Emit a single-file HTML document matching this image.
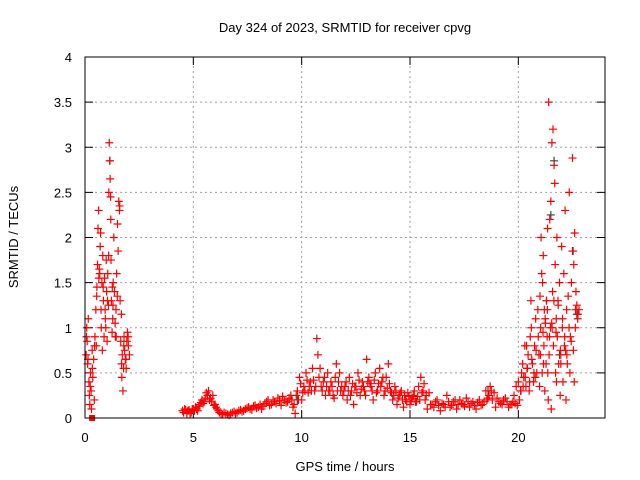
<!DOCTYPE html>
<html><head><meta charset="utf-8"><style>
html,body{margin:0;padding:0;background:#fff;}
svg{display:block;font-family:"Liberation Sans",sans-serif;font-size:13px;}
</style></head><body>
<svg id="chart" width="640" height="480">
<text x="345" y="32" text-anchor="middle">Day 324 of 2023, SRMTID for receiver cpvg</text>
<text x="0" y="0" transform="translate(18,237) rotate(-90)" text-anchor="middle">SRMTID / TECUs</text>
<text x="345" y="471" text-anchor="middle">GPS time / hours</text>
<g id="grid"></g><g id="ticks"></g><g id="marks"></g>
<rect x="85" y="57" width="520" height="361" fill="none" stroke="#000" stroke-width="1"/>
</svg>
<script>
const xTicks=[0,5,10,15,20];
const yTicks=[0,0.5,1,1.5,2,2.5,3,3.5,4];
const yTickLabels=["0","0.5","1","1.5","2","2.5","3","3.5","4"];
const hours=[0.05,0.08,0.1,0.12,0.15,0.18,0.2,0.22,0.25,0.28,0.3,0.33,0.36,0.4,0.43,0.46,0.5,0.52,0.55,0.58,0.6,0.63,0.66,0.7,0.72,0.75,0.78,0.8,0.82,0.85,0.88,0.9,0.93,0.96,1.0,1.02,1.05,1.08,1.1,1.12,1.14,1.16,1.18,1.2,1.22,1.25,1.28,1.3,1.33,1.36,1.4,1.43,1.46,1.5,1.53,1.56,1.6,1.62,1.65,1.68,1.7,1.72,1.75,1.78,1.8,1.83,1.86,1.9,1.93,1.96,2.0,2.05,
4.5,4.6,4.7,4.8,4.9,5.0,5.1,5.2,5.3,5.4,5.5,5.6,5.7,5.8,5.9,6.0,6.1,6.2,6.35,6.5,6.65,6.8,6.95,7.1,7.25,7.4,7.55,7.7,7.85,8.0,8.15,8.3,8.45,8.6,8.75,8.9,9.05,9.2,9.35,9.5,9.6,9.7,9.8,9.9,10.0,10.1,10.2,10.3,10.4,10.5,10.6,10.7,10.75,10.8,10.9,11.0,11.1,11.2,11.3,11.4,11.5,11.6,11.7,11.8,11.9,12.0,12.1,12.2,12.3,12.4,12.5,12.6,12.7,12.8,12.9,13.0,13.1,13.2,13.3,13.4,13.5,13.6,13.7,13.8,13.9,14.0,14.1,14.2,14.3,14.4,14.5,14.6,14.7,14.8,14.9,15.0,15.1,15.2,15.3,15.4,15.5,15.6,15.7,15.8,15.95,16.1,16.25,16.4,16.55,16.7,16.85,17.0,17.15,17.3,17.45,17.6,17.75,17.9,18.05,18.2,18.35,18.5,18.6,18.7,18.8,18.95,19.1,19.25,19.4,19.55,19.7,
19.8,19.9,20.0,20.1,20.15,20.2,20.25,20.3,20.35,20.4,20.45,20.5,20.55,20.6,20.65,20.7,20.75,20.8,20.85,20.9,20.95,21.0,21.03,21.05,21.08,21.1,21.12,21.15,21.18,21.2,21.22,21.25,21.28,21.3,21.33,21.35,21.38,21.4,21.42,21.45,21.48,21.5,21.52,21.55,21.58,21.6,21.62,21.65,21.68,21.7,21.72,21.75,21.78,21.8,21.83,21.86,21.9,21.93,21.96,22.0,22.03,22.06,22.1,22.13,22.16,22.2,22.23,22.26,22.3,22.35,22.4,22.45,22.5,22.53,22.56,22.6,22.63,22.66,22.7,22.75,22.8];
const srmtid=[0.7,1.0,0.85,0.6,1.1,0.4,0.25,0.15,0.5,0.3,0.1,0.75,0.45,0.65,0.2,0.9,1.2,0.8,1.45,1.7,2.1,2.3,1.65,1.9,2.05,1.0,1.5,0.75,1.8,1.3,0.9,1.55,1.2,1.0,1.4,0.85,1.6,1.25,2.5,3.05,2.85,2.65,2.45,1.75,1.3,0.95,1.1,1.5,2.0,1.4,0.9,1.2,1.6,2.15,1.85,2.4,2.35,1.3,0.85,1.15,0.45,0.7,0.3,0.55,0.9,0.75,0.65,0.55,0.85,0.95,0.8,0.7,
0.08,0.1,0.05,0.09,0.06,0.1,0.12,0.08,0.15,0.2,0.18,0.28,0.3,0.22,0.25,0.15,0.1,0.06,0.04,0.05,0.03,0.06,0.05,0.08,0.07,0.1,0.12,0.09,0.14,0.12,0.1,0.16,0.2,0.15,0.18,0.22,0.14,0.2,0.18,0.25,0.12,0.05,0.3,0.45,0.2,0.35,0.5,0.28,0.4,0.55,0.3,0.88,0.7,0.45,0.35,0.4,0.25,0.5,0.3,0.35,0.22,0.6,0.4,0.3,0.25,0.35,0.2,0.45,0.3,0.15,0.35,0.5,0.25,0.4,0.3,0.65,0.45,0.35,0.2,0.5,0.3,0.55,0.4,0.25,0.45,0.6,0.3,0.2,0.35,0.15,0.25,0.3,0.12,0.2,0.28,0.15,0.22,0.3,0.18,0.35,0.45,0.3,0.2,0.1,0.15,0.12,0.2,0.08,0.15,0.25,0.12,0.18,0.1,0.2,0.15,0.22,0.12,0.18,0.1,0.2,0.15,0.3,0.22,0.35,0.2,0.12,0.18,0.15,0.22,0.12,0.15,
0.25,0.35,0.4,0.3,0.5,0.6,0.45,0.8,0.35,0.55,0.7,0.3,0.9,1.0,0.6,0.4,0.8,1.1,0.5,1.2,0.7,1.35,1.0,2.0,1.6,0.5,1.5,1.8,0.8,1.2,0.3,1.05,0.6,1.3,0.9,2.1,0.2,3.5,0.7,2.2,1.0,2.4,0.1,3.05,1.4,3.2,0.8,2.8,2.6,1.7,0.5,1.1,2.0,0.9,1.3,0.6,1.5,0.25,0.7,1.9,1.0,0.4,1.6,0.8,2.3,0.2,1.2,0.6,1.35,2.5,0.9,1.5,2.88,1.85,1.7,2.05,1.0,1.4,1.25,1.15,1.2];
const bandHours=[0.07,0.14,0.24,0.34,0.44,0.54,0.64,0.74,0.84,0.94,1.04,1.09,1.19,1.29,1.39,1.49,1.59,1.69,1.79,1.89,1.99,0.68,0.98,1.26,1.44,
4.55,4.65,4.75,4.85,4.95,5.05,5.15,5.25,5.35,5.45,5.55,5.65,5.75,5.85,5.95,6.05,6.15,6.28,6.42,6.58,6.72,6.88,7.02,7.18,7.32,7.48,7.62,7.78,7.92,8.08,8.22,8.38,8.52,8.68,8.82,8.98,9.12,9.28,9.42,9.55,9.65,9.75,9.85,9.95,10.05,10.15,10.25,10.35,10.45,10.55,10.65,10.85,10.95,11.05,11.15,11.25,11.35,11.45,11.55,11.65,11.75,11.85,11.95,12.05,12.15,12.25,12.35,12.45,12.55,12.65,12.75,12.85,12.95,13.05,13.15,13.25,13.35,13.45,13.55,13.65,13.75,13.85,13.95,14.05,14.15,14.25,14.35,14.45,14.55,14.65,14.75,14.85,14.95,15.05,15.15,15.25,15.35,15.45,15.55,15.65,15.75,15.88,16.02,16.18,16.32,16.48,16.62,16.78,16.92,17.08,17.22,17.38,17.52,17.68,17.82,17.98,18.12,18.28,18.42,18.55,18.65,18.75,18.88,19.02,19.18,19.32,19.48,19.62,19.75,
19.85,19.95,20.05,20.12,20.22,20.32,20.42,20.52,20.62,20.72,20.82,20.92,21.02,21.14,21.24,21.34,21.44,21.54,21.64,21.74,21.84,21.94,22.04,22.14,22.24,22.34,22.44,22.54,22.64,22.74,20.38,20.58,20.78,20.98,21.16,21.36,21.56,21.76,21.96,22.18,22.38,22.58];
const bandSrmtid=[0.9,0.65,0.35,0.55,0.8,1.35,1.55,1.2,1.45,1.1,1.3,1.8,2.2,1.25,1.05,1.35,2.3,0.6,0.8,0.65,0.9,1.6,1.75,1.45,0.9,
0.06,0.09,0.08,0.05,0.1,0.08,0.1,0.13,0.17,0.16,0.22,0.25,0.2,0.18,0.14,0.12,0.08,0.05,0.06,0.04,0.05,0.07,0.06,0.09,0.08,0.11,0.1,0.13,0.11,0.15,0.13,0.18,0.14,0.2,0.16,0.19,0.24,0.17,0.22,0.2,0.15,0.25,0.2,0.38,0.28,0.3,0.42,0.35,0.3,0.42,0.35,0.55,0.3,0.45,0.35,0.3,0.4,0.25,0.45,0.3,0.5,0.35,0.3,0.4,0.3,0.25,0.38,0.35,0.28,0.42,0.32,0.35,0.25,0.4,0.38,0.3,0.42,0.28,0.38,0.35,0.45,0.3,0.33,0.38,0.28,0.25,0.3,0.22,0.28,0.2,0.25,0.18,0.24,0.2,0.25,0.18,0.24,0.2,0.28,0.38,0.25,0.28,0.15,0.18,0.14,0.16,0.12,0.18,0.14,0.2,0.15,0.16,0.13,0.18,0.16,0.14,0.17,0.14,0.18,0.2,0.25,0.3,0.28,0.22,0.16,0.2,0.18,0.15,0.18,0.16,0.14,
0.2,0.3,0.35,0.45,0.55,0.4,0.65,0.5,0.75,0.9,0.7,0.95,1.1,1.2,0.9,1.05,1.3,0.95,1.25,0.75,1.1,0.9,0.7,1.0,0.85,0.75,1.2,1.1,0.8,1.3,0.45,0.35,0.6,0.5,1.0,0.4,0.6,0.75,0.5,0.4,0.3,0.55];
const grayHours=[1.15,9.8,18.6,21.3,21.5,21.65,21.9,22.5,22.7];
const graySrmtid=[2.85,0.2,0.3,1.3,2.25,2.85,0.7,1.85,1.15];
const flagHours=[0.33];
const flagValues=[0];

const X0=85,X1=605,Y0=418,Y1=57,XMAX=24,YMAX=4;
const xs=h=>X0+(X1-X0)*h/XMAX;
const ys=v=>Y0-(Y0-Y1)*v/YMAX;
const NS="http://www.w3.org/2000/svg";
function mk(tag,attrs,parent){const e=document.createElementNS(NS,tag);for(const k in attrs)e.setAttribute(k,attrs[k]);parent.appendChild(e);return e;}
const grid=document.getElementById('grid'),ticks=document.getElementById('ticks'),marks=document.getElementById('marks');
yTicks.forEach((v,i)=>{
  const y=ys(v);
  if(v>0&&v<YMAX){const g=mk('line',{x1:X0,x2:X1,y1:y,y2:y,stroke:'#a0a0a0','stroke-dasharray':'2,3'},grid);
  
  }
  mk('line',{x1:X0,x2:X0+8,y1:y,y2:y,stroke:'#000'},ticks);
  mk('line',{x1:X1,x2:X1-8,y1:y,y2:y,stroke:'#000'},ticks);
  const t=mk('text',{x:X0-13,y:y+5,'text-anchor':'end'},ticks);t.textContent=yTickLabels[i];
  
  
});
xTicks.forEach(h=>{
  const x=xs(h);
  if(h>0){const g=mk('line',{x1:x,x2:x,y1:Y0,y2:Y1,stroke:'#a0a0a0','stroke-dasharray':'2,3'},grid);
  
  }
  mk('line',{x1:x,x2:x,y1:Y0,y2:Y0-8,stroke:'#000'},ticks);
  mk('line',{x1:x,x2:x,y1:Y1,y2:Y1+8,stroke:'#000'},ticks);
  const t=mk('text',{x:x,y:Y0+24,'text-anchor':'middle'},ticks);t.textContent=String(h);
  
  
});
function plus(h,v,color,name){
  const x=xs(h),y=ys(v);
  const p=mk('path',{d:`M${x-4},${y}H${x+4}M${x},${y-4}V${y+4}`,stroke:color,'stroke-width':1.2,fill:'none'},marks);
  
  
}
grayHours.forEach((h,i)=>plus(h,graySrmtid[i],'#404040','gray-point'));
bandHours.forEach((h,i)=>plus(h,bandSrmtid[i],'#ff0000','srmtid-band-point'));
hours.forEach((h,i)=>plus(h,srmtid[i],'#ff0000','srmtid-point'));
flagHours.forEach((h,i)=>{
  const r=mk('rect',{x:xs(h)-3,y:ys(flagValues[i])-3,width:6,height:6,fill:'#ff0000'},marks);
  
  
});
</script>
</body></html>
